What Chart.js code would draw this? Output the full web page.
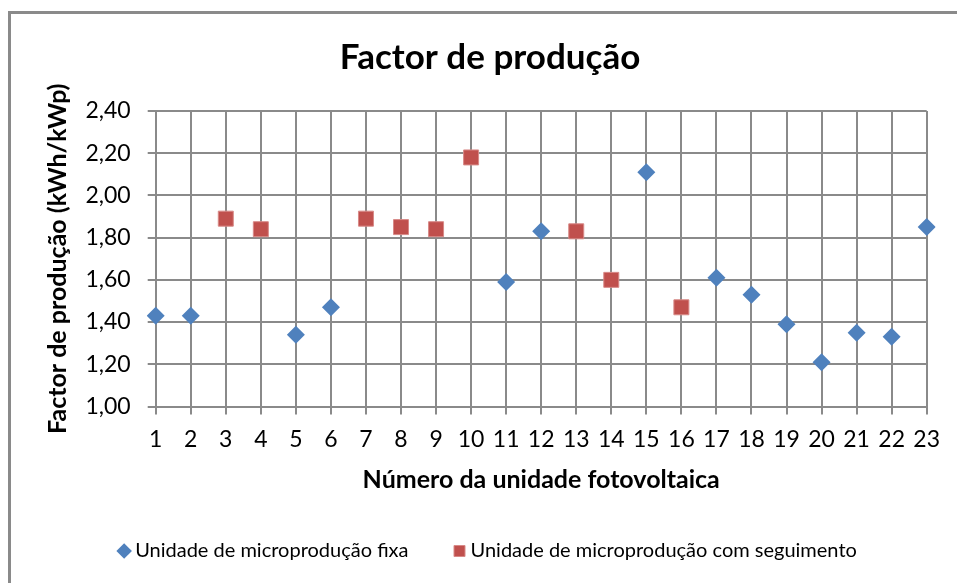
<!DOCTYPE html>
<html>
<head>
<meta charset="utf-8">
<script src="https://cdn.jsdelivr.net/npm/chart.js@4/dist/chart.umd.min.js"></script>
<style>
  html, body { margin: 0; padding: 0; background: #fff; overflow: hidden; }
  #frame { position: absolute; left: 8px; top: 11px; width: 1000px; height: 1000px; border: 3px solid #8a8a8a; }
  #wrap { position: absolute; left: 0; top: 0; width: 957px; height: 583px; }
</style>
</head>
<body>
<div id="frame"></div>
<div id="wrap"><canvas id="chart"></canvas></div>
<script>
// unidades 1..23
const categories = ['1','2','3','4','5','6','7','8','9','10','11','12','13','14','15','16','17','18','19','20','21','22','23'];
// unidades fixas (losango azul)
const fixa = [1.43, 1.43, null, null, 1.34, 1.47, null, null, null, null, 1.59, 1.83, null, null, 2.11, null, 1.61, 1.53, 1.39, 1.21, 1.35, 1.33, 1.85];
// unidades com seguimento (quadrado vermelho)
const seguimento = [null, null, 1.89, 1.84, null, null, 1.89, 1.85, 1.84, 2.18, null, null, 1.83, 1.60, null, 1.47, null, null, null, null, null, null, null];
const yTicks = [1.00, 1.20, 1.40, 1.60, 1.80, 2.00, 2.20, 2.40];

const fmt = (v) => v.toFixed(2).replace('.', ',');
const FONT = 'Lato, "Open Sans", sans-serif';
const gridColor = '#8a8a8a';

new Chart(document.getElementById('chart'), {
  type: 'line',
  data: {
    labels: categories,
    datasets: [
      {
        label: 'Unidade de microprodução fixa',
        data: fixa,
        showLine: false,
        pointStyle: 'rectRot',
        pointRadius: 9,
        pointHoverRadius: 9,
        backgroundColor: '#4F81BD',
        borderColor: '#4F81BD',
        pointBorderWidth: 0
      },
      {
        label: 'Unidade de microprodução com seguimento',
        data: seguimento,
        showLine: false,
        pointStyle: 'rect',
        pointRadius: 10.6,
        pointHoverRadius: 10.6,
        backgroundColor: '#C0504D',
        borderColor: '#D88A88',
        pointBorderWidth: 1
      }
    ]
  },
  options: {
    responsive: true,
    maintainAspectRatio: false,
    animation: false,
    layout: { padding: { left: 23, right: 0, top: 0, bottom: 12 } },
    plugins: {
      title: {
        display: true,
        text: 'Factor de produção',
        color: '#000',
        font: { family: FONT, size: 35, weight: 'bold', lineHeight: 1.2 },
        padding: { top: 37, bottom: 32 }
      },
      legend: {
        position: 'bottom',
        labels: {
          color: '#000',
          font: { family: FONT, size: 20 },
          usePointStyle: true,
          boxWidth: 2,
          boxHeight: 11,
          padding: 50
        }
      },
      tooltip: { enabled: false }
    },
    scales: {
      x: {
        type: 'category',
        offset: false,
        grid: { color: gridColor, lineWidth: 2, tickLength: 8, drawTicks: true },
        border: { color: gridColor, width: 2 },
        ticks: { color: '#000', font: { family: FONT, size: 23 }, padding: 11, maxRotation: 0, autoSkip: false },
        title: {
          display: true,
          text: 'Número da unidade fotovoltaica',
          color: '#000',
          font: { family: FONT, size: 25, weight: 'bold', lineHeight: 1.2 },
          padding: { top: 0, bottom: -4 }
        },
        afterFit: (s) => { s.height = 84.5; }
      },
      y: {
        min: 1,
        max: 2.4,
        afterBuildTicks: (s) => { s.ticks = yTicks.map(v => ({ value: v })); },
        grid: { color: gridColor, lineWidth: 2, tickLength: 8, drawTicks: true },
        border: { color: gridColor, width: 2 },
        ticks: { color: '#000', font: { family: FONT, size: 23 }, padding: 17, callback: (v) => fmt(v) },
        title: {
          display: true,
          text: 'Factor de produção (kWh/kWp)',
          color: '#000',
          font: { family: FONT, size: 25, weight: 'bold', lineHeight: 1.0 },
          padding: { top: 22, bottom: 0 }
        },
        afterFit: (s) => { s.width = 132.7; }
      },
      // eixo vazio à direita, só para centrar o título como no original
      y2: {
        position: 'right',
        display: true,
        grid: { display: false },
        border: { display: false },
        ticks: { display: false },
        afterFit: (s) => { s.width = 30.3; }
      }
    }
  }
});
</script>
</body>
</html>
